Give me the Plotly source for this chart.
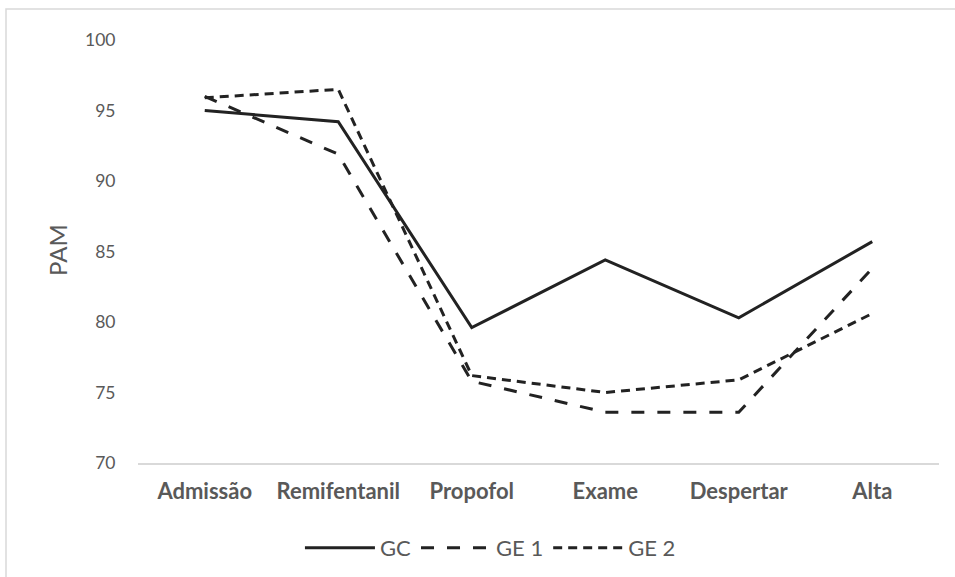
import plotly.graph_objects as go

categories = ["Admissão", "Remifentanil", "Propofol", "Exame", "Despertar", "Alta"]
gc = [95.0, 94.2, 79.6, 84.4, 80.3, 85.7]
ge1 = [96.0, 91.9, 75.8, 73.6, 73.6, 83.8]
ge2 = [95.9, 96.5, 76.2, 75.0, 75.9, 80.6]
y_ticks = [70, 75, 80, 85, 90, 95, 100]

font = "Lato, Open Sans, sans-serif"
grey = "#595959"
L, R, T, B = 138, 16, 40, 114
W, H = 955, 577
pw, ph = W - L - R, H - T - B

fig = go.Figure()
fig.add_trace(go.Scatter(x=categories, y=gc, name="GC", mode="lines",
                         line=dict(color="#222222", width=3)))
fig.add_trace(go.Scatter(x=categories, y=ge1, name="GE 1", mode="lines",
                         line=dict(color="#222222", width=3, dash="13px,13px")))
fig.add_trace(go.Scatter(x=categories, y=ge2, name="GE 2", mode="lines",
                         line=dict(color="#222222", width=3, dash="9px,6px")))

fig.update_layout(
    width=W, height=H,
    margin=dict(l=L, r=R, t=T, b=B, autoexpand=False),
    paper_bgcolor="white", plot_bgcolor="white",
    showlegend=True,
    legend=dict(orientation="h", x=0.44, xanchor="center", y=-85 / ph, yanchor="middle",
                font=dict(family=font, size=22, color=grey), itemwidth=70,
                bgcolor="rgba(0,0,0,0)"),
    xaxis=dict(showgrid=False, showline=True, linecolor="#d9d9d9", linewidth=1.5,
               ticks="outside", ticklen=8, tickcolor="rgba(0,0,0,0)",
               tickfont=dict(family=font, size=22, color=grey, weight="bold"),
               range=[-0.5, 5.5]),
    yaxis=dict(range=[70, 100], tickvals=y_ticks, showgrid=False, zeroline=False,
               showline=False, ticks="outside", ticklen=18, tickcolor="rgba(0,0,0,0)",
               tickfont=dict(family=font, size=17.5, color=grey)),
    annotations=[dict(text="PAM", xref="paper", yref="paper",
                      x=(57 - L) / pw, y=(T + ph - 250) / ph,
                      xanchor="center", yanchor="middle", textangle=-90, showarrow=False,
                      font=dict(family=font, size=24, color=grey))],
    shapes=[dict(type="rect", xref="paper", yref="paper", x0=(6 - L) / pw, x1=1.1,
                 y0=-0.4, y1=(T + ph - 9) / ph, line=dict(color="#d9d9d9", width=1.5))],
)
fig.write_html("out.html", config={"displayModeBar": False},
               post_script="document.body.style.margin='0';document.body.style.overflow='hidden';")
